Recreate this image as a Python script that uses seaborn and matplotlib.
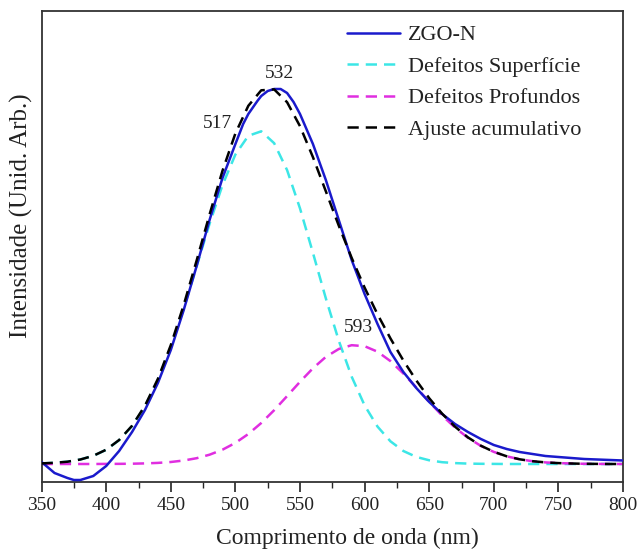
import numpy as np
import pandas as pd
import matplotlib
matplotlib.use("Agg")
import matplotlib.pyplot as plt
import seaborn as sns

# wavelength grid (nm)
wl = [350, 360, 370, 380, 390, 400, 410, 420, 430, 440, 450, 460, 470, 480, 490,
      500, 510, 520, 530, 540, 550, 560, 570, 580, 590, 600, 610, 620, 630, 640,
      650, 660, 670, 680, 690, 700, 710, 720, 730, 740, 750, 760, 770, 780, 790, 800]

# ZGO-N measured spectrum (extra points near the peak)
wl_zgo = [350, 360, 370, 375, 380, 390, 400, 410, 420, 430, 440, 450, 460, 470, 480, 490,
          500, 506, 510, 517, 520, 525, 530, 535, 540, 545, 550, 560, 570, 580, 590,
          600, 610, 620, 630, 640, 650, 660, 670, 680, 690, 700, 710, 720, 730, 740,
          750, 760, 770, 780, 790, 800]
zgo = [20, 9, 4, 2, 2, 6, 16, 31, 50, 72, 99, 132, 172, 216, 262, 304,
       338, 358, 368, 381, 386, 391, 393, 393, 389, 380, 368, 338, 302, 262, 222,
       188, 158, 130, 110, 94, 80, 68, 58, 50, 43, 37, 33, 30, 28, 26,
       25, 24, 23, 22.5, 22, 21.5]

superficie = [18.6, 19.2, 20.3, 22.5, 26.2, 32.2, 41.8, 55.9, 75.7, 102.0, 134.9, 173.5,
              215.7, 258.2, 296.9, 327.5, 346.2, 350.7, 338.8, 311.9, 273.6, 229.2, 183.6,
              141.4, 105.3, 76.6, 55.4, 40.7, 31.0, 25.1, 21.7, 19.8, 18.9, 18.4, 18.2,
              18.1, 18.0, 18.0, 18.0, 18.0, 18.0, 18.0, 18.0, 18.0, 18.0, 18.0]

profundos = [18.0, 18.0, 18.0, 18.0, 18.0, 18.1, 18.15, 18.3, 18.6, 19.1, 20.0, 21.5,
             23.8, 27.3, 32.3, 39.1, 48.0, 59.0, 71.8, 85.9, 100.2, 113.7, 125.1, 133.0,
             136.8, 135.8, 130.3, 120.9, 108.5, 94.5, 80.1, 66.5, 54.4, 44.2, 36.1, 30.1,
             25.7, 22.7, 20.8, 19.6, 18.9, 18.5, 18.2, 18.1, 18.0, 18.0]

acumulativo = [18.6, 19.2, 20.3, 22.5, 26.2, 32.3, 42.0, 56.2, 76.3, 103.1, 136.9, 177.0,
               221.5, 267.5, 311.2, 348.6, 376.2, 391.7, 392.6, 379.8, 355.8, 324.9, 290.7,
               256.4, 224.1, 194.4, 167.7, 143.6, 121.5, 101.6, 83.8, 68.3, 55.3, 44.6, 36.3,
               30.2, 25.7, 22.7, 20.8, 19.6, 18.9, 18.5, 18.2, 18.1, 18.0, 18.0]

peak_labels = ["517", "532", "593"]
peak_pos = [(486, 359), (534.5, 409), (595.5, 154)]

sns.set_theme(style="white")
plt.rcParams["font.family"] = ["Liberation Serif", "DejaVu Serif"]
plt.rcParams["mathtext.fontset"] = "stix"

fig = plt.figure(figsize=(6.41, 5.52), dpi=100)
ax = fig.add_axes([41.6 / 641, 70 / 552, 581.4 / 641, 471 / 552])

df_zgo = pd.DataFrame({"wl": wl_zgo, "I": zgo})
df = pd.DataFrame({"wl": wl, "sup": superficie, "pro": profundos, "acu": acumulativo})

sns.lineplot(data=df_zgo, x="wl", y="I", ax=ax, color="#1a1acc", lw=1.8,
             label="ZGO-N", zorder=3)
sns.lineplot(data=df, x="wl", y="sup", ax=ax, color="#3ce6e6", lw=1.8,
             label="Defeitos Superfície", zorder=2)
sns.lineplot(data=df, x="wl", y="pro", ax=ax, color="#e02ee0", lw=1.8,
             label="Defeitos Profundos", zorder=2)
sns.lineplot(data=df, x="wl", y="acu", ax=ax, color="black", lw=1.8,
             label="Ajuste acumulativo", zorder=4)
for line in ax.get_lines()[1:]:
    line.set_dashes([4.5, 2.8])

for lab, (px, py) in zip(peak_labels, peak_pos):
    ax.text(px, py, lab, ha="center", va="center", fontsize=14, color="#222222")

ax.set_xlim(350, 800)
ax.set_ylim(0, 471)
ax.set_xticks(np.arange(350, 801, 50))
ax.set_xticks(np.arange(375, 800, 50), minor=True)
ax.set_yticks([])
ax.tick_params(axis="x", which="major", direction="out", length=7, width=1.2,
               labelsize=14, pad=4, colors="#222222", bottom=True)
ax.tick_params(axis="x", which="minor", direction="out", length=4, width=1.0,
               bottom=True)
for s in ax.spines.values():
    s.set_color("#333333")
    s.set_linewidth(1.3)

ax.set_xlabel("Comprimento de onda (nm)", fontsize=17, color="#222222")
ax.set_ylabel("Intensidade (Unid. Arb.)", fontsize=18, color="#222222")
ax.xaxis.set_label_coords((347 - 41.6) / 581.4, -46 / 471)
ax.yaxis.set_label_coords((33 - 41.6) / 581.4, (482 - 216) / 471)

leg = ax.legend(loc="upper left", bbox_to_anchor=((338 - 41.6) / 581.4, (482 - 16) / 471),
                frameon=False, fontsize=16, handlelength=2.4, handletextpad=0.36,
                labelspacing=0.49, borderaxespad=0.0)
for t in leg.get_texts():
    t.set_color("#222222")

fig.savefig("out.png", dpi=100)
